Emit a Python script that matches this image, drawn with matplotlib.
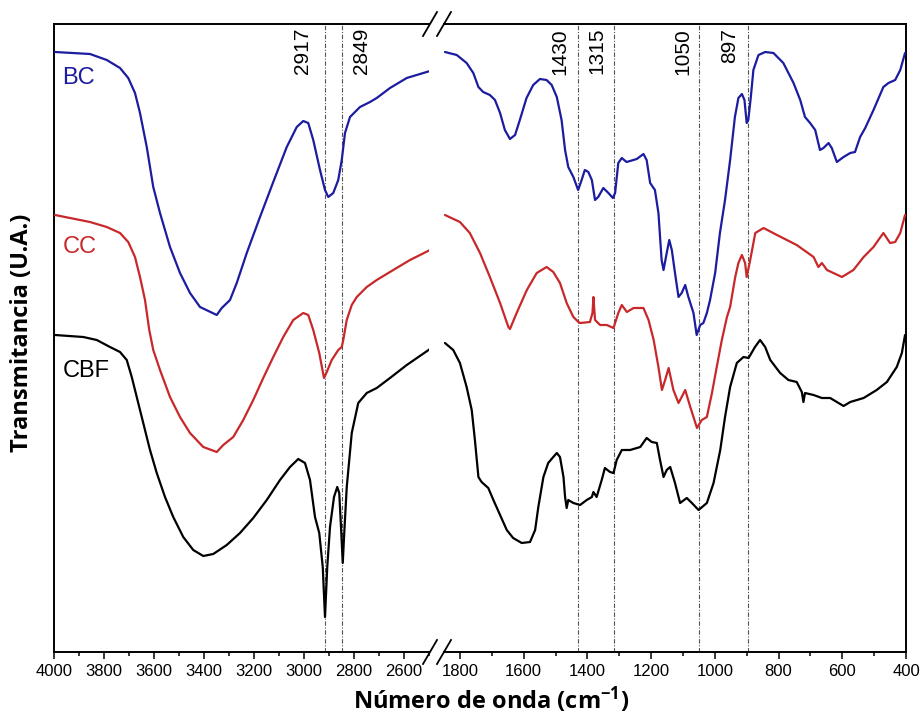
import matplotlib
matplotlib.use("Agg")
import matplotlib.pyplot as plt
from matplotlib.lines import Line2D
from matplotlib.ticker import MultipleLocator

plt.rcParams["mathtext.fontset"] = "custom"
plt.rcParams["mathtext.rm"] = "Open Sans:bold"
plt.rcParams["mathtext.default"] = "regular"

# ---------------- data (wavenumber in cm-1, transmittance in a.u.) ----------------
# high wavenumber region (4000-2500 cm-1)
bc_hi_x = [3996, 3856, 3789, 3736, 3703, 3676, 3656, 3629, 3603, 3576, 3536, 3496, 3456, 3416,
           3349, 3329, 3296, 3269, 3229, 3176, 3123, 3069, 3029, 3003, 2983, 2963, 2936, 2916,
           2903, 2883, 2863, 2849, 2836, 2816, 2776, 2736, 2709, 2656, 2589, 2536, 2496]
bc_hi_y = [600, 598, 592, 584, 574, 559, 539, 505, 465, 439, 405, 379, 359, 345,
           337, 344, 352, 369, 399, 435, 470, 505, 525, 531, 529, 512, 482, 462,
           455, 459, 472, 492, 519, 535, 545, 550, 554, 564, 574, 578, 581]

cc_hi_x = [3996, 3856, 3789, 3736, 3703, 3676, 3656, 3636, 3619, 3603, 3576, 3536, 3496, 3456,
           3403, 3349, 3323, 3283, 3243, 3203, 3163, 3123, 3083, 3043, 3003, 2983, 2963, 2939,
           2920, 2909, 2889, 2863, 2849, 2843, 2829, 2809, 2789, 2749, 2709, 2643, 2576, 2496]
cc_hi_y = [437, 430, 425, 419, 410, 395, 375, 352, 322, 302, 282, 255, 235, 219,
           205, 200, 207, 215, 232, 252, 274, 295, 315, 332, 339, 337, 322, 299,
           274, 280, 292, 302, 305, 312, 332, 347, 355, 365, 372, 382, 392, 402]

cbf_hi_x = [3996, 3883, 3829, 3776, 3736, 3709, 3689, 3669, 3643, 3616, 3589, 3556, 3523, 3483,
            3443, 3403, 3363, 3309, 3256, 3203, 3149, 3096, 3056, 3023, 2996, 2976, 2956, 2939,
            2925, 2916, 2907, 2896, 2880, 2867, 2859, 2852, 2845, 2839, 2829, 2809, 2783, 2749,
            2709, 2656, 2589, 2496]
cbf_hi_y = [317, 315, 312, 305, 300, 292, 275, 255, 229, 202, 179, 155, 135, 115,
            102, 96, 98, 107, 119, 134, 152, 172, 185, 193, 189, 172, 135, 119,
            85, 35, 85, 125, 155, 165, 159, 125, 89, 119, 165, 219, 249, 259,
            264, 274, 287, 303]

# fingerprint region (1850-400 cm-1)
bc_lo_x = [1847, 1810, 1779, 1758, 1742, 1727, 1706, 1690, 1674, 1659, 1643, 1627, 1612, 1591,
           1570, 1549, 1528, 1512, 1496, 1481, 1470, 1460, 1444, 1429, 1418, 1408, 1397, 1386,
           1376, 1366, 1350, 1334, 1320, 1313, 1303, 1292, 1277, 1245, 1224, 1214, 1203, 1188,
           1177, 1167, 1161, 1151, 1143, 1135, 1125, 1114, 1104, 1093, 1083, 1067, 1057, 1046,
           1036, 1025, 1015, 999, 984, 968, 952, 937, 926, 915, 907, 900, 895, 887, 879, 863,
           842, 816, 785, 753, 732, 717, 701, 685, 670, 659, 643, 633, 617, 596, 575, 560, 544,
           528, 502, 471, 455, 434, 418, 403]
bc_lo_y = [600, 597, 589, 579, 565, 560, 557, 552, 539, 522, 513, 517, 532, 554,
           567, 573, 572, 567, 555, 532, 502, 485, 475, 462, 472, 482, 480, 472,
           452, 455, 464, 459, 454, 459, 489, 494, 490, 493, 498, 492, 469, 462,
           439, 392, 382, 399, 412, 402, 379, 355, 359, 367, 355, 339, 317, 327,
           329, 339, 352, 379, 419, 452, 492, 535, 554, 558, 552, 529, 532, 555, 582, 597,
           600, 599, 589, 569, 552, 535, 529, 522, 502, 504, 509, 504, 490, 495, 499, 500, 515,
           524, 542, 565, 569, 572, 582, 599]

cc_lo_x = [1847, 1800, 1769, 1737, 1706, 1674, 1648, 1643, 1622, 1590, 1559, 1528, 1507, 1486,
           1465, 1444, 1428, 1423, 1392, 1384, 1381, 1376, 1360, 1339, 1318, 1303, 1292, 1276,
           1255, 1224, 1208, 1192, 1177, 1166, 1156, 1145, 1130, 1114, 1104, 1093, 1077, 1056,
           1041, 1025, 1009, 994, 978, 962, 952, 936, 926, 915, 905, 900, 889, 873, 847, 805,
           743, 690, 675, 664, 648, 601, 565, 533, 502, 471, 450, 434, 418, 403]
cc_lo_y = [437, 430, 419, 399, 375, 349, 325, 323, 339, 362, 379, 385, 380, 369,
           349, 335, 330, 329, 330, 339, 355, 332, 327, 327, 324, 339, 347, 340,
           344, 344, 332, 312, 285, 262, 272, 284, 262, 249, 255, 262, 245, 224,
           232, 235, 259, 285, 312, 335, 345, 375, 389, 397, 389, 375, 392, 419, 424, 417,
           407, 395, 385, 389, 382, 375, 382, 395, 405, 419, 409, 410, 419, 437]

cbf_lo_x = [1847, 1821, 1800, 1779, 1763, 1753, 1742, 1732, 1711, 1695, 1674, 1653, 1633, 1606,
            1580, 1564, 1554, 1538, 1523, 1507, 1496, 1486, 1475, 1470, 1465, 1460, 1444, 1423,
            1402, 1386, 1381, 1371, 1355, 1345, 1329, 1318, 1308, 1292, 1266, 1234, 1214, 1198,
            1182, 1172, 1161, 1151, 1140, 1125, 1109, 1088, 1072, 1051, 1025, 1004, 983, 968,
            952, 931, 910, 894, 874, 858, 842, 826, 795, 769, 743, 727, 722, 717, 690, 664,
            638, 596, 575, 533, 492, 460, 429, 413, 403]
cbf_lo_y = [309, 302, 289, 265, 242, 212, 175, 170, 164, 152, 137, 122, 114, 109,
            110, 122, 145, 175, 189, 195, 199, 195, 175, 155, 144, 152, 149, 147,
            152, 155, 160, 155, 172, 184, 180, 179, 192, 202, 202, 205, 214, 210,
            209, 192, 175, 182, 185, 169, 149, 154, 149, 142, 149, 169, 202, 235,
            265, 289, 295, 294, 305, 312, 305, 292, 279, 272, 270, 260, 250, 259, 257, 254,
            254, 246, 250, 254, 262, 270, 285, 299, 317]

series_names = ["BC", "CC", "CBF"]
series_colors = ["#1c1ca0", "#c8282a", "#000000"]
peaks_hi = [2917, 2849]
peaks_lo = [1430, 1315, 1050, 897]

# ---------------- figure ----------------
W, H = 922, 721
fig = plt.figure(figsize=(W / 100, H / 100), dpi=100)
fig.patch.set_facecolor("white")

def fx(px):
    return px / W

def fy(py):
    return 1 - py / H

top, bot = 24, 652
ax1 = fig.add_axes([fx(54), fy(bot), fx(429) - fx(54), fy(top) - fy(bot)])
ax2 = fig.add_axes([fx(444), fy(bot), fx(906) - fx(444), fy(top) - fy(bot)])

hi = [(bc_hi_x, bc_hi_y), (cc_hi_x, cc_hi_y), (cbf_hi_x, cbf_hi_y)]
lo = [(bc_lo_x, bc_lo_y), (cc_lo_x, cc_lo_y), (cbf_lo_x, cbf_lo_y)]

for (x, y), c in zip(hi, series_colors):
    ax1.plot(x, y, color=c, lw=1.6, solid_joinstyle="round", solid_capstyle="round", zorder=3)
for (x, y), c in zip(lo, series_colors):
    ax2.plot(x, y, color=c, lw=1.6, solid_joinstyle="round", solid_capstyle="round", zorder=3)

vstyle = dict(color="#555555", lw=0.8, linestyle=(0, (4, 1.5, 1, 1.5)), zorder=2)
for p in peaks_hi:
    ax1.axvline(p, **vstyle)
for p in peaks_lo:
    ax2.axvline(p, **vstyle)

ax1.set_xlim(4000, 2500)
ax2.set_xlim(1850, 400)
ax1.set_xticks([4000, 3800, 3600, 3400, 3200, 3000, 2800, 2600])
ax2.set_xticks([1800, 1600, 1400, 1200, 1000, 800, 600, 400])
for ax in (ax1, ax2):
    ax.set_ylim(0, 628)
    ax.set_yticks([])
    ax.xaxis.set_minor_locator(MultipleLocator(100))
    ax.tick_params(axis="x", which="major", direction="out", length=5, width=1.1,
                   pad=4, labelsize=12)
    ax.tick_params(axis="x", which="minor", direction="out", length=2.8, width=1.1)
    for lab in ax.get_xticklabels():
        lab.set_fontfamily("Liberation Sans")
    for s in ax.spines.values():
        s.set_linewidth(1.4)

ax1.spines["right"].set_visible(False)
ax2.spines["left"].set_visible(False)

# series labels
lab_font = dict(family="Liberation Sans", fontsize=17, ha="left", va="center")
ax1.text(3966, 574, "BC", color=series_colors[0], **lab_font)
ax1.text(3966, 405, "CC", color=series_colors[1], **lab_font)
ax1.text(3966, 281, "CBF", color=series_colors[2], **lab_font)

# peak labels
pk_font = dict(family="Liberation Sans", fontsize=15, rotation=90, ha="center", va="top")
ax1.text(3008, 624, "2917", **pk_font)
ax1.text(2772, 624, "2849", **pk_font)
lo_label_x = {1430: 1486, 1315: 1370, 1050: 1100, 897: 952}
for p in peaks_lo:
    ax2.text(lo_label_x[p], 624, str(p), **pk_font)

# axis break marks
for ybrk in (top, bot):
    for xc in (430, 444):
        fig.add_artist(Line2D([fx(xc - 7), fx(xc + 7)], [fy(ybrk + 12), fy(ybrk - 12)],
                              color="black", lw=1.3, transform=fig.transFigure))

# axis titles
fig.text(fx(491), fy(700), "Número de onda (cm$^{-1}$)", ha="center", va="center",
         fontsize=17, fontweight="bold", family="Open Sans")
fig.text(fx(22), fy(333), "Transmitancia (U.A.)", ha="center", va="center",
         rotation=90, fontsize=17, fontweight="bold", family="Open Sans")

fig.savefig("out.png", dpi=100, facecolor="white")
